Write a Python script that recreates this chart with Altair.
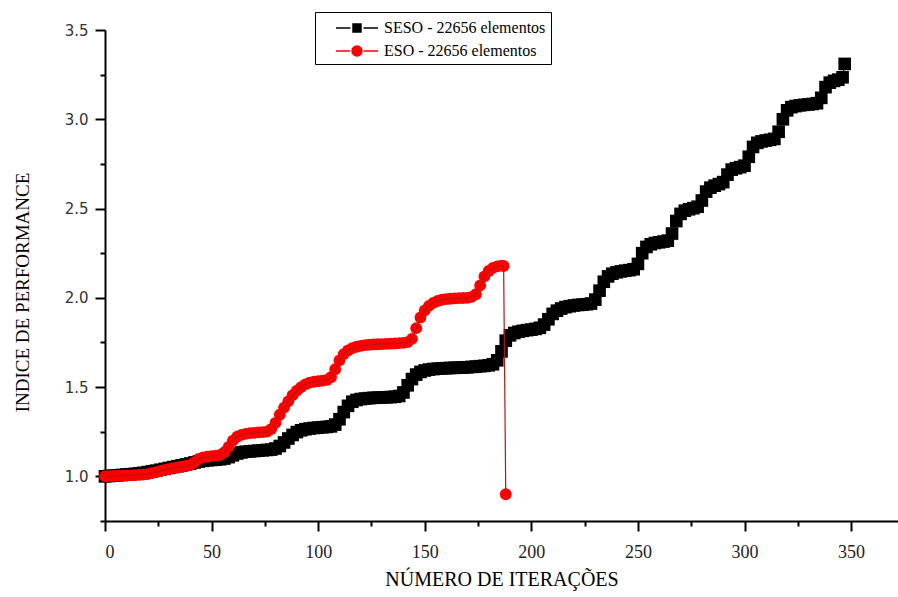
import altair as alt
import pandas as pd

# ---------------- data ----------------
seso_iter = list(range(0, 348, 2)) + [347]
seso_val = [
    1.000, 1.002, 1.004, 1.006, 1.008, 1.010, 1.012, 1.014, 1.017, 1.020,
    1.024, 1.028, 1.032, 1.037, 1.042, 1.047, 1.052, 1.057, 1.062, 1.067,
    1.072, 1.078, 1.083, 1.087, 1.090, 1.092, 1.094, 1.096, 1.100, 1.108,
    1.118, 1.128, 1.134, 1.138, 1.140, 1.142, 1.144, 1.146, 1.148, 1.150,
    1.156, 1.170, 1.190, 1.212, 1.232, 1.248, 1.258, 1.264, 1.268, 1.271,
    1.273, 1.275, 1.277, 1.280, 1.290, 1.320, 1.360, 1.395, 1.418, 1.428,
    1.433, 1.436, 1.438, 1.440, 1.441, 1.442, 1.443, 1.444, 1.446, 1.450,
    1.470, 1.510, 1.545, 1.570, 1.585, 1.593, 1.598, 1.601, 1.603, 1.605,
    1.606, 1.607, 1.608, 1.609, 1.610, 1.611, 1.613, 1.615, 1.617, 1.619,
    1.622, 1.628, 1.650, 1.700, 1.760, 1.790, 1.803, 1.810, 1.815, 1.819,
    1.822, 1.826, 1.832, 1.850, 1.880, 1.910, 1.928, 1.940, 1.948, 1.953,
    1.957, 1.960, 1.962, 1.964, 1.968, 1.990, 2.040, 2.090, 2.120, 2.135,
    2.143, 2.148, 2.152, 2.155, 2.160, 2.190, 2.250, 2.285, 2.300, 2.307,
    2.311, 2.315, 2.320, 2.360, 2.430, 2.470, 2.488, 2.496, 2.502, 2.510,
    2.545, 2.595, 2.617, 2.628, 2.637, 2.648, 2.690, 2.718, 2.726, 2.732,
    2.740, 2.790, 2.845, 2.868, 2.876, 2.881, 2.885, 2.890, 2.930, 3.000,
    3.050, 3.068, 3.074, 3.078, 3.081, 3.083, 3.086, 3.090, 3.120, 3.180,
    3.205, 3.215, 3.222, 3.235, 3.310,
]

eso_iter = list(range(0, 188, 2)) + [187, 188]
eso_val = [
    1.000, 1.001, 1.002, 1.003, 1.004, 1.005, 1.006, 1.007, 1.008, 1.010,
    1.013, 1.018, 1.024, 1.030, 1.036, 1.041, 1.046, 1.050, 1.054, 1.058,
    1.064, 1.078, 1.098, 1.106, 1.110, 1.113, 1.116, 1.120, 1.135, 1.165,
    1.200, 1.222, 1.232, 1.238, 1.242, 1.244, 1.246, 1.248, 1.251, 1.265,
    1.300, 1.345, 1.385, 1.420, 1.455, 1.480, 1.500, 1.515, 1.525, 1.530,
    1.533, 1.536, 1.540, 1.555, 1.600, 1.650, 1.685, 1.705, 1.718, 1.726,
    1.731, 1.735, 1.737, 1.739, 1.740, 1.741, 1.742, 1.743, 1.744, 1.746,
    1.748, 1.752, 1.770, 1.830, 1.890, 1.930, 1.955, 1.972, 1.982, 1.989,
    1.993, 1.995, 1.997, 1.998, 1.999, 2.000, 2.005, 2.020, 2.070, 2.120,
    2.150, 2.168, 2.176, 2.180, 2.178, 0.900,
]

series_names = ["SESO - 22656 elementos", "ESO - 22656 elementos"]
series_colors = ["#000000", "#ff0000"]
x_ticks = [0, 25, 50, 75, 100, 125, 150, 175, 200, 225, 250, 275, 300, 325, 350]
y_ticks = [0.75, 1.0, 1.25, 1.5, 1.75, 2.0, 2.25, 2.5, 2.75, 3.0, 3.25, 3.5]
x_title = "NÚMERO DE ITERAÇÕES"
y_title = "INDICE DE PERFORMANCE"

# ---------------- tables ----------------
seso = pd.DataFrame({"iter": seso_iter, "val": seso_val, "serie": series_names[0]})
eso = pd.DataFrame({"iter": eso_iter, "val": eso_val, "serie": series_names[1]})

# legend symbols: line - marker - line
sq_path = "M-2.1,0H-0.65M0.65,0H2.1M-0.4,-0.4H0.4V0.4H-0.4Z"
ci_path = ("M-2.1,0H-0.7M0.7,0H2.1M-0.5,0A0.5,0.5 0 1,1 0.5,0"
           "A0.5,0.5 0 1,1 -0.5,0Z")

x_scale = alt.Scale(domain=[0, 372], nice=False, zero=False)
y_scale = alt.Scale(domain=[0.75, 3.5], nice=False, zero=False)

x_axis = alt.Axis(
    values=x_ticks,
    labelExpr="datum.value % 50 == 0 ? format(datum.value, 'd') : ''",
    tickSize={"condition": {"test": "datum.value % 50 == 0", "value": 10}, "value": 5},
    tickWidth=2, tickColor="black", domainColor="black", domainWidth=2,
    labelFont="Liberation Serif", labelFontSize=18, labelColor="#222",
    labelPadding=12, grid=False,
    title=x_title, titleFont="Liberation Serif", titleFontSize=20,
    titleFontWeight="normal", titleColor="black", titlePadding=8,
)
y_axis = alt.Axis(
    values=y_ticks,
    labelExpr="datum.value % 0.5 == 0 ? format(datum.value, '.1f') : ''",
    tickSize={"condition": {"test": "datum.value % 0.5 == 0", "value": 10}, "value": 5},
    tickWidth=2, tickColor="black", domainColor="black", domainWidth=2,
    labelFont="DejaVu Sans", labelFontSize=15, labelColor="#333",
    labelPadding=7, grid=False,
    title=y_title, titleFont="Liberation Serif", titleFontSize=19,
    titleFontWeight="normal", titleColor="black",
    titleAngle=-90, titleX=-83, titleY=262, titleAlign="center",
    titleBaseline="middle",
)

X = alt.X("iter:Q", scale=x_scale, axis=x_axis)
Y = alt.Y("val:Q", scale=y_scale, axis=y_axis)

seso_line = alt.Chart(seso).mark_line(color="black", strokeWidth=1, clip=False).encode(x=X, y=Y)
seso_pts = alt.Chart(seso).mark_square(color="black", size=160, opacity=1, clip=False).encode(x=X, y=Y)
eso_pts = alt.Chart(eso).mark_circle(color="#ff0000", size=140, opacity=1, clip=False).encode(x=X, y=Y)
eso_line = alt.Chart(eso).mark_line(color="#c01010", strokeWidth=1.2, clip=False).encode(x=X, y=Y)

leg = alt.Legend(
    title=None, orient="none", legendX=210, legendY=-18, direction="vertical",
    strokeColor="black", fillColor="white", padding=5,
    labelFont="Liberation Serif", labelFontSize=16, labelColor="black",
    labelLimit=400,
    symbolSize=400, symbolStrokeWidth=1.5, symbolOffset=26, labelOffset=16,
    rowPadding=4,
)
legend_layer = alt.Chart(seso).transform_filter("datum.iter < 0").mark_point(
    filled=True, opacity=1, strokeWidth=1.5
).encode(
    x=X, y=Y,
    color=alt.Color("serie:N", scale=alt.Scale(domain=series_names, range=series_colors), legend=leg),
    stroke=alt.Stroke("serie:N", scale=alt.Scale(domain=series_names, range=series_colors), legend=leg),
    shape=alt.Shape("serie:N", scale=alt.Scale(domain=series_names, range=[sq_path, ci_path]), legend=leg),
)

chart = alt.layer(
    seso_line, seso_pts, eso_pts, eso_line, legend_layer
).properties(
    width=793, height=491,
    autosize=alt.AutoSizeParams(type="none"),
    padding={"left": 105, "top": 30, "right": 0, "bottom": 76},
    background="white",
).configure_view(strokeWidth=0)

chart.save("out.html", embed_options={"renderer": "svg", "actions": False})
